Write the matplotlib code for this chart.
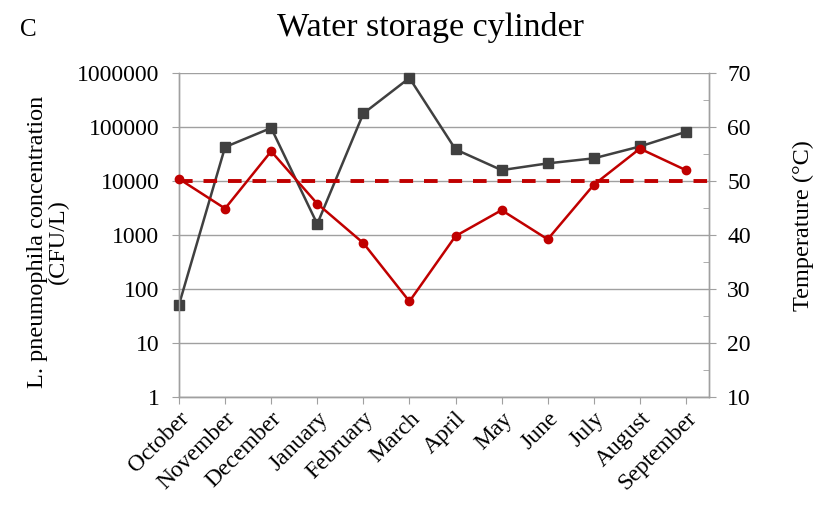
import matplotlib
matplotlib.use('Agg')
import matplotlib.pyplot as plt
import numpy as np
from matplotlib.ticker import FixedLocator, FuncFormatter, MultipleLocator

plt.rcParams['font.family'] = ['Liberation Serif', 'DejaVu Serif']

months = ['October', 'November', 'December', 'January', 'February', 'March',
          'April', 'May', 'June', 'July', 'August', 'September']
# L. pneumophila concentration (CFU/L)
conc = [51, 42500, 96000, 1600, 178000, 810000, 38500, 15900, 21200, 26300, 43600, 81500]
# temperature (°C)
temp = [50.4, 44.9, 55.5, 45.8, 38.5, 27.7, 39.8, 44.6, 39.2, 49.3, 56.0, 52.0]
temp_limit = 50

gray = '#404040'
red = '#C00000'
axcol = '#a0a0a0'

fig = plt.figure(figsize=(8.21, 5.07), dpi=100)
ax = fig.add_axes([0.218, 0.217, 0.6456, 0.639])
ax2 = ax.twinx()

x = np.arange(len(months))
ax.set_yscale('log')
ax.set_ylim(1, 1e6)
ax.set_xlim(0, 11.5)
ax.yaxis.set_major_locator(FixedLocator([10 ** i for i in range(7)]))
ax.yaxis.set_minor_locator(FixedLocator([]))
ax.yaxis.set_major_formatter(FuncFormatter(lambda v, p: '%d' % round(v)))
ax.grid(axis='y', color=axcol, lw=1)
ax.set_axisbelow(True)

ax.set_xticks(x)
ax.set_xticklabels(months, rotation=45, ha='right', rotation_mode='anchor', fontsize=17)
ax.tick_params(axis='y', labelsize=17, length=5, color=axcol, direction='out', pad=9)
ax.tick_params(axis='x', length=5, color=axcol, direction='out', pad=3)

ax2.set_ylim(10, 70)
ax2.yaxis.set_major_locator(MultipleLocator(10))
ax2.yaxis.set_minor_locator(MultipleLocator(5))
ax2.tick_params(axis='y', which='major', labelsize=17, length=5, color=axcol, direction='out', pad=8)
ax2.tick_params(axis='y', which='minor', length=4, color=axcol, direction='in')

for a in (ax, ax2):
    a.spines['top'].set_visible(False)
    for s in ('left', 'right', 'bottom'):
        a.spines[s].set_color(axcol)
        a.spines[s].set_linewidth(1)

ax2.axhline(temp_limit, color=red, lw=2.8, dashes=(3.5, 2.8), zorder=2)
ax.plot(x, conc, color=gray, lw=1.8, marker='s', markersize=6.5, zorder=3, clip_on=False)
ax2.plot(x, temp, color=red, lw=1.8, marker='o', markersize=6, zorder=3, clip_on=False)

ax.set_ylabel('L. pneumophila concentration\n(CFU/L)', fontsize=17.5, linespacing=1.0)
ax.yaxis.set_label_coords(-0.208, 0.48)
ax2.set_ylabel('Temperature (°C)', fontsize=17.5)
ax2.yaxis.set_label_coords(1.158, 0.53)

fig.text(0.524, 0.945, 'Water storage cylinder', fontsize=24.5, ha='center', va='center')
fig.text(0.035, 0.94, 'C', fontsize=18, ha='center', va='center')

fig.savefig('out.png', dpi=100)
